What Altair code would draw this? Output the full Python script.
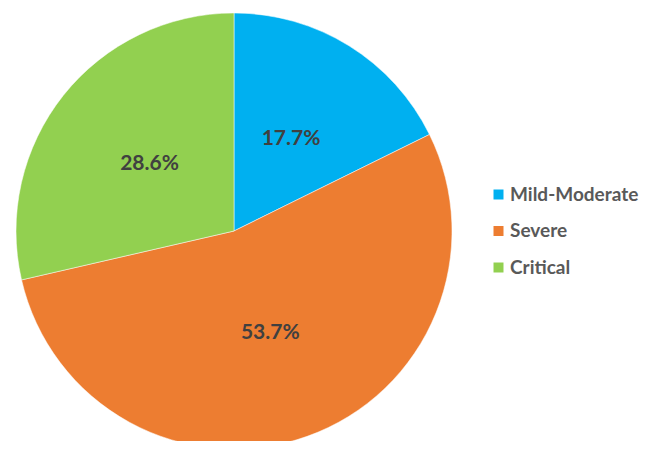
import altair as alt
import pandas as pd

categories = ["Mild-Moderate", "Severe", "Critical"]
values = [17.7, 53.7, 28.6]
colors = ["#00B0F0", "#ED7D31", "#92D050"]

df = pd.DataFrame({
    "category": categories,
    "value": values,
    "order": list(range(len(categories))),
    "label": [f"{v:.1f}%" for v in values],
})

base = alt.Chart(df).encode(
    theta=alt.Theta("value:Q", stack=True),
    order=alt.Order("order:Q"),
)

pie = base.mark_arc(stroke="white", strokeWidth=0.5).encode(
    x=alt.value(226),
    y=alt.value(223),
    radius=alt.value(218),
    color=alt.Color(
        "category:N",
        scale=alt.Scale(domain=categories, range=colors),
        sort=categories,
        legend=alt.Legend(
            title=None,
            orient="none",
            legendX=481,
            legendY=177,
            symbolType="square",
            symbolSize=100,
            symbolStrokeWidth=0,
            labelFont="Lato",
            labelFontWeight="bold",
            labelFontSize=19,
            labelColor="#595959",
            labelOffset=2,
            rowPadding=16.5,
        ),
    ),
)

text = base.mark_text(
    font="Lato", fontWeight="bold", fontSize=21, color="#404040",
    align="center", baseline="middle",
).encode(
    x=alt.value(226),
    y=alt.value(223),
    radius=alt.value(108),
    text="label:N",
)

chart = (pie + text).properties(
    width=639, height=433,
    autosize=alt.AutoSizeParams(type="none"),
    padding=0,
).configure_view(stroke=None)

chart.save("out.html", embed_options={"renderer": "svg", "actions": False})
